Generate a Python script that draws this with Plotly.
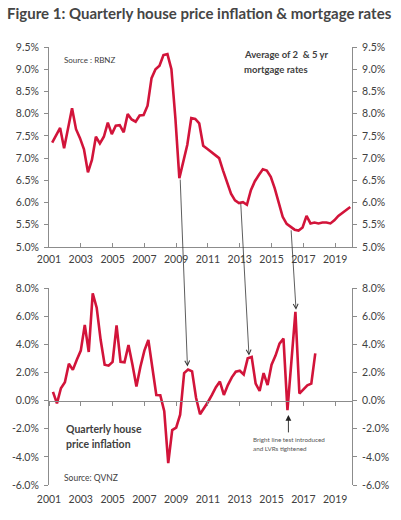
import plotly.graph_objects as go

# ---------------- data ----------------
mort_start = 2001.2
mortgage_rates = [
    7.35, 7.52, 7.68, 7.22, 7.70, 8.12, 7.65, 7.45, 7.20, 6.68,
    6.96, 7.48, 7.33, 7.48, 7.80, 7.54, 7.73, 7.74, 7.58, 7.99,
    7.87, 7.82, 7.96, 7.97, 8.18, 8.80, 9.00, 9.08, 9.32, 9.34,
    9.00, 7.90, 6.55, 6.90, 7.30, 7.90, 7.88, 7.78, 7.28, 7.21,
    7.14, 7.07, 7.00, 6.72, 6.45, 6.20, 6.05, 5.99, 6.01, 5.95,
    6.28, 6.48, 6.62, 6.75, 6.72, 6.58, 6.32, 5.97, 5.68, 5.52,
    5.45, 5.39, 5.37, 5.44, 5.70, 5.53, 5.55, 5.53, 5.55, 5.55,
    5.53, 5.60, 5.70, 5.77, 5.84, 5.90,
]
mort_x = [mort_start + 0.25 * i for i in range(len(mortgage_rates))]

hpi_start = 2001.25
house_price_inflation = [
    0.62, -0.20, 0.88, 1.30, 2.62, 2.18, 2.90, 3.55, 5.38, 3.45,
    7.62, 6.60, 4.30, 2.55, 2.48, 2.75, 5.35, 2.75, 2.72, 3.95,
    2.55, 1.00, 2.40, 3.55, 4.30, 2.40, 0.40, 0.38, -0.75, -4.45,
    -2.10, -1.92, -1.00, 1.95, 2.20, 2.08, 0.20, -0.97, -0.55, -0.10,
    0.40, 0.95, 1.35, 0.40, 1.10, 1.65, 2.05, 2.12, 1.85, 3.00,
    3.10, 1.20, 0.68, 1.95, 1.10, 2.55, 3.20, 4.05, 4.40, -0.68,
    2.80, 6.30, 0.50, 0.78, 1.08, 1.20, 3.35,
]
hpi_x = [hpi_start + 0.25 * i for i in range(len(house_price_inflation))]

year_ticks = [2001, 2003, 2005, 2007, 2009, 2011, 2013, 2015, 2017, 2019]
year_labels = [str(y) for y in year_ticks]
top_ticks = [5.0, 5.5, 6.0, 6.5, 7.0, 7.5, 8.0, 8.5, 9.0, 9.5]
top_labels = ["%.1f%%" % v for v in top_ticks]
bot_ticks = [-6, -4, -2, 0, 2, 4, 6, 8]
bot_labels = ["%.1f%%" % v for v in bot_ticks]

# arrows: (head year, head value, tail dx px, tail dy px)
arrow_links = [
    (2003.77, 8.10, -4.6, -113.4),
    (2009.71, 2.42, -7.3, -188.4),
    (2013.58, 3.20, -8.3, -153.4),
    (2016.54, 6.45, -5.0, -81.0),
]

# ---------------- layout geometry ----------------
W, H = 401, 520
ML, MR, MT, MB = 48, 48, 47, 35
PW, PH = W - ML - MR, H - MT - MB
x_range = [2001, 2020.06]
top_range = [5.0, 9.5]
bot_range = [-6.0, 8.0]
top_dom = [1 - 200 / PH, 1.0]
bot_dom = [0.0, 1 - (288 - MT) / PH]
zero_pos = bot_dom[0] + (0 - bot_range[0]) / (bot_range[1] - bot_range[0]) * (bot_dom[1] - bot_dom[0])


def px(xp):
    return (xp - ML) / PW


def py(yp):
    return (H - MB - yp) / PH


RED = "#D2143A"
AX = "#8c8c8c"
TXT = "#404040"
FONT = "Lato"

fig = go.Figure()
fig.add_trace(go.Scatter(x=mort_x, y=mortgage_rates, mode="lines",
                         line=dict(color=RED, width=2.6), xaxis="x", yaxis="y",
                         showlegend=False, hoverinfo="skip"))
fig.add_trace(go.Scatter(x=mort_x, y=mortgage_rates, mode="lines", opacity=0,
                         line=dict(color=RED, width=0.1), xaxis="x", yaxis="y3",
                         showlegend=False, hoverinfo="skip"))
fig.add_trace(go.Scatter(x=hpi_x, y=house_price_inflation, mode="lines",
                         line=dict(color=RED, width=2.6), xaxis="x3", yaxis="y2",
                         showlegend=False, hoverinfo="skip"))
fig.add_trace(go.Scatter(x=hpi_x, y=house_price_inflation, mode="lines", opacity=0,
                         line=dict(color=RED, width=0.1), xaxis="x2", yaxis="y4",
                         showlegend=False, hoverinfo="skip"))

tickfont = dict(family=FONT, size=10.5, color=TXT)
yax_common = dict(showgrid=False, zeroline=False, showline=True, linecolor=AX,
                  linewidth=1, ticks="outside", ticklen=4, tickcolor=AX,
                  tickfont=tickfont, ticklabelstandoff=3, fixedrange=True)

fig.update_layout(
    width=W, height=H,
    margin=dict(l=ML, r=MR, t=MT, b=MB),
    paper_bgcolor="white", plot_bgcolor="rgba(0,0,0,0)",
    title=dict(text="Figure 1: Quarterly house price inflation & mortgage rates",
               x=7 / W, xanchor="left", xref="container",
               y=1 - 14 / H, yanchor="middle", yref="container",
               font=dict(family=FONT, size=15, color="#454545", weight=700)),
    xaxis=dict(domain=[0, 1], anchor="y", range=x_range, showgrid=False,
               zeroline=False, showline=True, linecolor=AX, linewidth=1,
               tickmode="array", tickvals=year_ticks, ticktext=year_labels,
               ticks="inside", ticklen=4, tickcolor=AX, tickfont=tickfont,
               ticklabelstandoff=2, fixedrange=True),
    yaxis=dict(domain=top_dom, anchor="x", range=top_range, tickmode="array",
               tickvals=top_ticks, ticktext=top_labels, side="left", **yax_common),
    yaxis3=dict(overlaying="y", anchor="x", side="right", range=top_range,
                tickmode="array", tickvals=top_ticks, ticktext=top_labels, **yax_common),
    xaxis2=dict(domain=[0, 1], anchor="y2", matches="x", range=x_range,
                showgrid=False, zeroline=False, showline=False, ticks="",
                tickmode="array", tickvals=year_ticks, ticktext=year_labels,
                tickfont=tickfont, ticklabelstandoff=6, fixedrange=True),
    xaxis3=dict(overlaying="x2", anchor="free", position=zero_pos, range=x_range,
                matches="x", showgrid=False, zeroline=False, showline=True,
                linecolor=AX, linewidth=1, ticks="outside", ticklen=4, tickcolor=AX,
                tickmode="array", tickvals=year_ticks, showticklabels=False,
                fixedrange=True),
    yaxis2=dict(domain=bot_dom, anchor="x2", range=bot_range, tickmode="array",
                tickvals=bot_ticks, ticktext=bot_labels, side="left", **yax_common),
    yaxis4=dict(overlaying="y2", anchor="x2", side="right", range=bot_range,
                tickmode="array", tickvals=bot_ticks, ticktext=bot_labels, **yax_common),
)

annotations = []


def label(text, xp, yp, size, bold=False, color=TXT):
    annotations.append(dict(text=text, x=px(xp), y=py(yp), xref="paper", yref="paper",
                            xanchor="left", yanchor="middle", showarrow=False,
                            font=dict(family=FONT, size=size, color=color,
                                      weight=700 if bold else 400)))


label("Source : RBNZ", 61, 60, 8)
label("Average of 2  & 5 yr", 242, 54, 9.5, bold=True)
label("mortgage rates", 242, 69, 9.5, bold=True)
label("Quarterly house", 63, 429, 10.5, bold=True)
label("price inflation", 63, 444, 10.5, bold=True)
label("Source: QVNZ", 61, 478, 8.5)
label("Bright line test introduced", 251, 439, 6.3, color="#555555")
label("and LVRs tightened", 251, 448, 6.3, color="#555555")

for hx, hy, dx, dy in arrow_links:
    annotations.append(dict(x=hx, y=hy, xref="x3", yref="y2", ax=dx, ay=dy,
                            axref="pixel", ayref="pixel", text="", showarrow=True,
                            arrowhead=5, arrowsize=1.2, arrowwidth=0.8,
                            arrowcolor="#333333"))
annotations.append(dict(x=2016.06, y=-1.02, xref="x3", yref="y2", ax=0, ay=19,
                        axref="pixel", ayref="pixel", text="", showarrow=True,
                        arrowhead=2, arrowsize=1.3, arrowwidth=0.9,
                        arrowcolor="#222222"))
fig.update_layout(annotations=annotations)

fig.write_html("out.html", config={"displayModeBar": False},
               post_script="document.body.style.margin='0';")
